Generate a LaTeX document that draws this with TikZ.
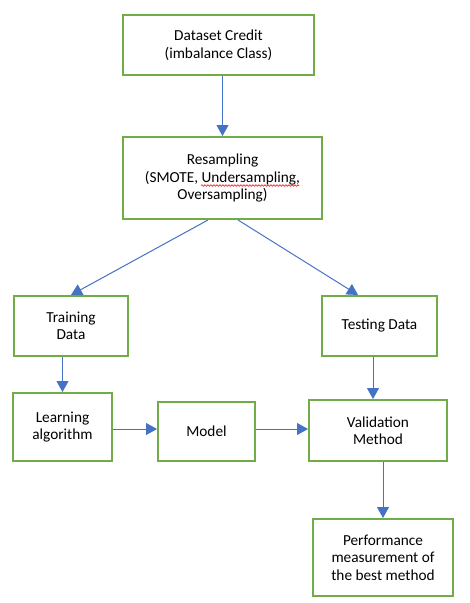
\documentclass[tikz,border=0pt]{standalone}
\usepackage{fontspec}
\setmainfont{Carlito}
\usetikzlibrary{arrows.meta,decorations.pathmorphing}
\definecolor{boxgreen}{HTML}{70AD47}
\definecolor{arrowblue}{HTML}{4472C4}
\begin{document}
\begin{tikzpicture}[x=1pt,y=-1pt,
  box/.style={draw=boxgreen,line width=2pt,fill=white,align=center,inner sep=2pt,
    font=\fontsize{15.3}{17.5}\selectfont},
  flow/.style={draw=arrowblue,line width=1pt,-{Triangle[length=11pt,width=12pt]}},
  spell/.style={draw=red,line width=0.6pt,decorate,decoration={snake,amplitude=0.8pt,segment length=3pt}}]
\useasboundingbox[fill=white] (0,0) rectangle (470,603);
\node[box,minimum width=191pt,minimum height=60pt] (data) at (218.5,45) {Dataset Credit\\(imbalance Class)};
\node[box,minimum width=199pt,minimum height=82pt] (resamp) at (222.5,178) {Resampling\\(SMOTE, Undersampling,\\Oversampling)};
\node[box,minimum width=114pt,minimum height=60pt] (train) at (71,326) {Training\\Data};
\node[box,minimum width=115pt,minimum height=60pt] (test) at (379.5,326) {Testing Data};
\node[box,minimum width=99pt,minimum height=68pt] (learn) at (62.5,427) {Learning\\algorithm};
\node[box,minimum width=97pt,minimum height=59pt] (model) at (206.5,431.5) {Model};
\node[box,minimum width=138pt,minimum height=61pt] (valid) at (378,430.5) {Validation\\Method};
\node[box,minimum width=140pt,minimum height=77pt] (perf) at (383,557.5) {Performance\\measurement of\\the best method};
\coordinate (rl) at (208,220);
\coordinate (rr) at (238,220);
\coordinate (u1) at (201,185.5);
\coordinate (u2) at (299,185.5);
\draw[spell] (u1) -- (u2);
\draw[flow] (data.south -| resamp.north) -- (resamp.north);
\draw[flow] (rl) -- (train.north);
\draw[flow] (rr) -- (test.north -| 358,0);
\draw[flow] (train.south -| learn.north) -- (learn.north);
\draw[flow] (test.south -| 373,0) -- (valid.north -| 373,0);
\draw[flow] (learn.east |- 0,429) -- (model.west |- 0,429);
\draw[flow] (model.east |- 0,429) -- (valid.west |- 0,429);
\draw[flow] (valid.south -| perf.north) -- (perf.north);
\end{tikzpicture}
\end{document}
